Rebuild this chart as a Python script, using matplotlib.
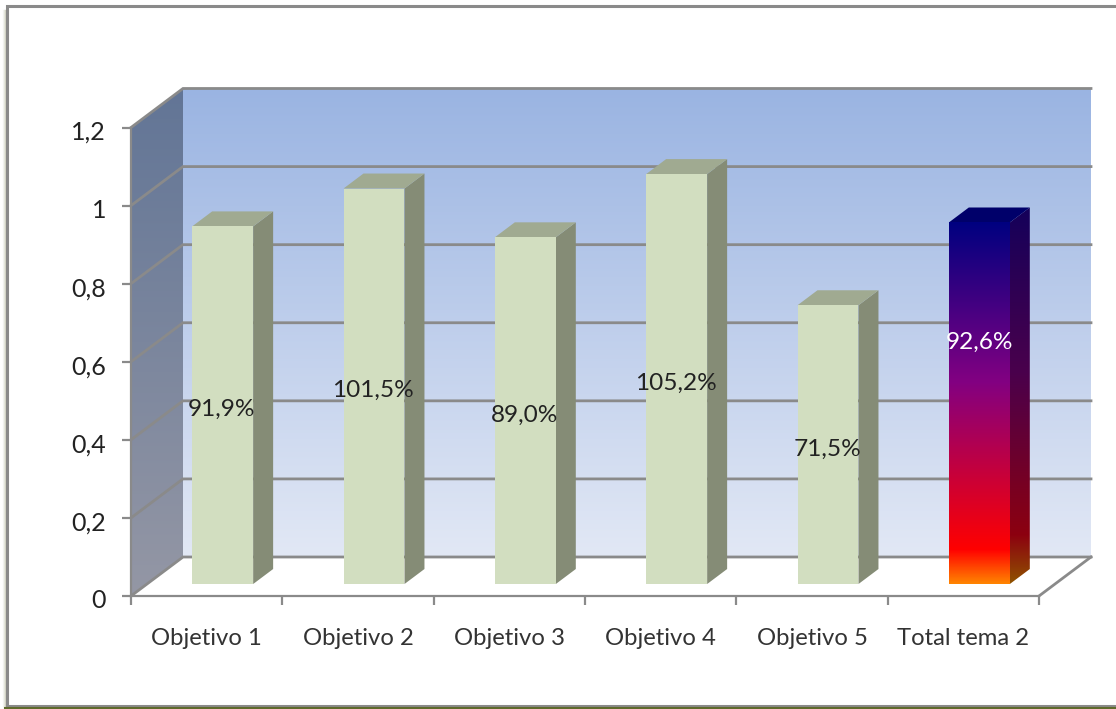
import matplotlib
matplotlib.use('Agg')
import matplotlib.pyplot as plt
import numpy as np
from matplotlib.colors import LinearSegmentedColormap
from matplotlib.lines import Line2D
from matplotlib.patches import Polygon
from matplotlib.transforms import ScaledTranslation

# Data
categories = ['Objetivo 1', 'Objetivo 2', 'Objetivo 3', 'Objetivo 4', 'Objetivo 5', 'Total tema 2']
values = [0.916, 1.013, 0.888, 1.050, 0.714, 0.926]
value_labels = ['91,9%', '101,5%', '89,0%', '105,2%', '71,5%', '92,6%']
y_ticks = [0, 0.2, 0.4, 0.6, 0.8, 1, 1.2]
y_tick_labels = ['0', '0,2', '0,4', '0,6', '0,8', '1', '1,2']

W, H = 1116, 709
GRAY = '#8a8a8a'
plt.rcParams['font.family'] = ['Lato', 'DejaVu Sans']

fig = plt.figure(figsize=(W / 100, H / 100), dpi=100, facecolor='white')
ax = fig.add_axes([131 / W, 1 - 596 / H, 908 / W, 468.5 / H])
ax.set_facecolor('none')

# 3d look: offsets of the back wall and of the bars
wall_dx, wall_dy = 0.3436, 0.0999
bar_dx, bar_dy = 0.132, 0.0384
base_x, base_y = 0.1057, 0.0307
bar_w = 0.403
xs = np.arange(len(categories)) + 0.5 + base_x


def gradient(x0, x1, y0, y1, cmap, clip):
    im = ax.imshow(np.linspace(0, 1, 256).reshape(-1, 1), cmap=cmap, origin='lower',
                   extent=(x0, x1, y0, y1), aspect='auto', vmin=0, vmax=1, zorder=clip.get_zorder())
    # images get cut to the axes box unless they are given a bigger one
    im.set_clip_box(fig.bbox)
    im.set_clip_path(clip)


def poly(points, color='none', z=1):
    p = Polygon(points, closed=True, facecolor=color, edgecolor='none', clip_on=False, zorder=z)
    ax.add_patch(p)
    return p


# Walls
back_cmap = LinearSegmentedColormap.from_list('back', ['#e2e8f5', '#9ab4e2'])
side_cmap = LinearSegmentedColormap.from_list('side', ['#9497a5', '#627596'])
back = poly([(wall_dx, wall_dy), (6 + wall_dx, wall_dy), (6 + wall_dx, 1.2 + wall_dy), (wall_dx, 1.2 + wall_dy)])
gradient(wall_dx, 6 + wall_dx, wall_dy, 1.2 + wall_dy, back_cmap, back)
left = poly([(0, 0), (wall_dx, wall_dy), (wall_dx, 1.2 + wall_dy), (0, 1.2)])
gradient(0, wall_dx, 0, 1.2 + wall_dy, side_cmap, left)

# Gridlines on both walls and the floor edge
for v in y_ticks:
    ax.plot([0, wall_dx, 6 + wall_dx], [v, v + wall_dy, v + wall_dy], color=GRAY, lw=2.0,
            clip_on=False, zorder=2, solid_joinstyle='miter')
ax.plot([6, 6 + wall_dx], [0, wall_dy], color=GRAY, lw=2.0, clip_on=False, zorder=2)

# Bars
fire_cmap = LinearSegmentedColormap.from_list('fire', [(0, '#ff8400'), (0.094, '#ff0000'), (0.56, '#820082'), (1, '#000080')])
fire_dark = LinearSegmentedColormap.from_list('fire_dark', [(0, '#8f5200'), (0.13, '#8c0010'), (0.56, '#4a004c'), (1, '#14005a')])
bars = ax.bar(xs, values, bar_w, bottom=base_y, color='#d2dec0', clip_on=False, zorder=5)
for i, (x, v) in enumerate(zip(xs, values)):
    r = x + bar_w / 2
    l = x - bar_w / 2
    t = base_y + v
    side_pts = [(r, base_y), (r + bar_dx, base_y + bar_dy), (r + bar_dx, t + bar_dy), (r, t)]
    top_pts = [(l, t), (r, t), (r + bar_dx, t + bar_dy), (l + bar_dx, t + bar_dy)]
    if i < len(xs) - 1:
        poly(side_pts, '#858c76', 4)
        poly(top_pts, '#a0aa91', 4)
    else:
        bars[i].set_facecolor('none')
        gradient(l, r, base_y, t, fire_cmap, bars[i])
        side = poly(side_pts, 'none', 4)
        gradient(r, r + bar_dx, base_y, t + bar_dy, fire_dark, side)
        poly(top_pts, '#00006a', 4)

# Value labels, centred in the bars except the last one
for i, (x, v) in enumerate(zip(xs, values)):
    if i == len(xs) - 1:
        ax.text(x, base_y + 0.619, value_labels[i], ha='center', va='center', fontsize=17.6,
                color='white', clip_on=False, zorder=8)
    else:
        ax.text(x - 0.005, base_y + v / 2 - 0.011, value_labels[i], ha='center', va='center', fontsize=17.6,
                color='#222222', clip_on=False, zorder=8)

# Axes
ax.set_xlim(0, 6)
ax.set_ylim(0, 1.2)
ax.set_yticks(y_ticks)
ax.set_yticklabels(y_tick_labels, fontsize=18, color='#222222')
ax.set_xticks(range(7))
ax.set_xticklabels([])
ax.set_xticks(np.arange(6) + 0.5, categories, minor=True, fontsize=17.2, color='#333333')
ax.tick_params(axis='x', which='minor', length=0, pad=23)
ax.tick_params(axis='x', which='major', length=6.5, width=1.6, color=GRAY)
ax.tick_params(axis='y', length=6.5, width=1.6, color=GRAY, pad=11.5)
shift = ScaledTranslation(0, -3 / 100, fig.dpi_scale_trans)
for lab in ax.get_yticklabels():
    lab.set_transform(lab.get_transform() + shift)
for s in ['top', 'right']:
    ax.spines[s].set_visible(False)
for s in ['left', 'bottom']:
    ax.spines[s].set_color(GRAY)
    ax.spines[s].set_linewidth(1.6)
    ax.spines[s].set_zorder(3)


# Outer frame with soft shadow
def frame_line(xp, yp, **kw):
    fig.add_artist(Line2D(np.array(xp) / W, 1 - np.array(yp) / H, transform=fig.transFigure, **kw))


for off, alpha in [(1, 0.35), (2, 0.22), (3, 0.12), (4, 0.06)]:
    frame_line([7 - off, 7 - off], [10, 706], color='#6f7440', lw=1, alpha=alpha)
frame_line([7, 7, W], [706, 5.5, 5.5], color=GRAY, lw=2.2, solid_joinstyle='miter')
frame_line([7, W], [706, 706], color=GRAY, lw=2.2)
frame_line([5, W], [708.2, 708.2], color='#5f6a2c', lw=1.5)

fig.savefig('out.png', dpi=100)
